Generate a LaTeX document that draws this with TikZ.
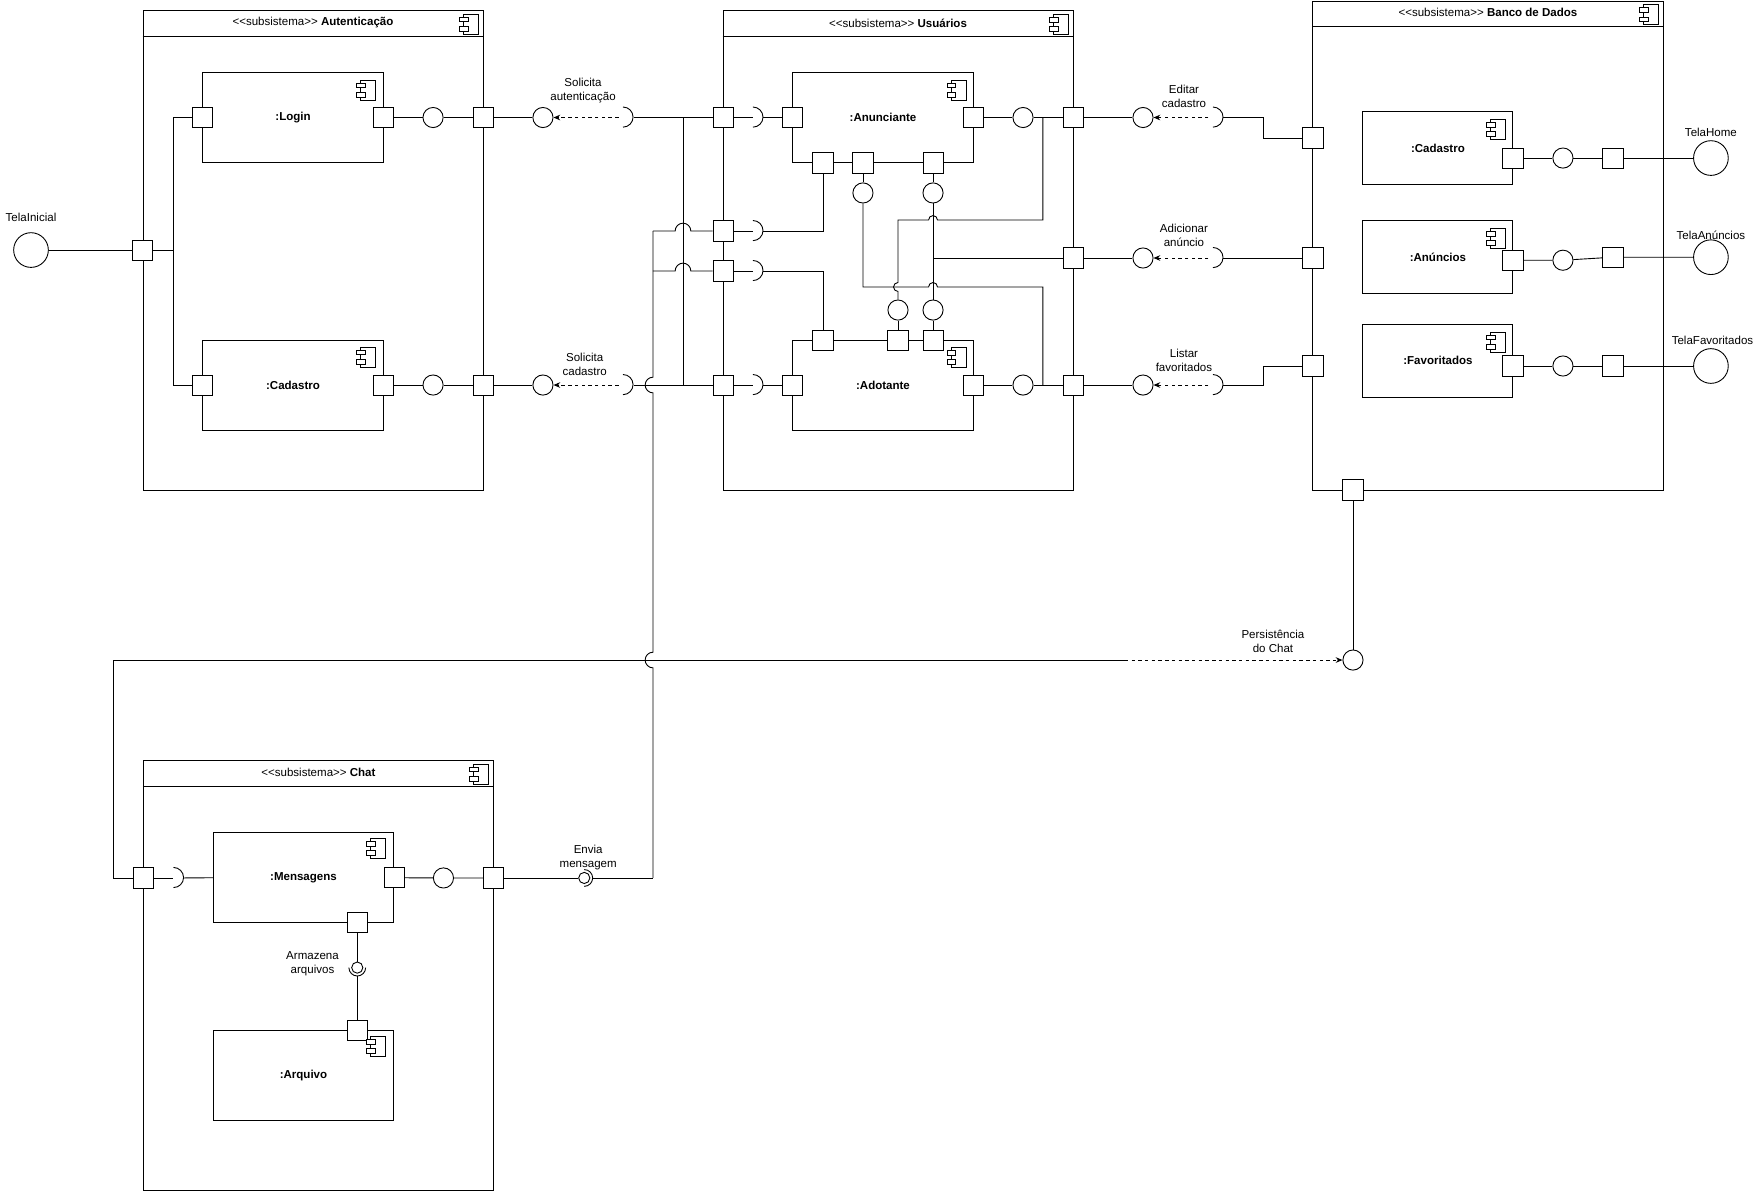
\documentclass[tikz,border=0pt]{standalone}
\usepackage{fontspec}
\setmainfont{Liberation Sans}
\usetikzlibrary{arrows.meta,calc}
\newcommand{\subsis}{<\kern0pt<subsistema>\kern0pt>}

\begin{document}
\begin{tikzpicture}[x=1pt,y=-1pt,line width=.8pt,
  every node/.style={font=\fontsize{10.3}{12.5}\selectfont,align=center},
  subbox/.style={draw,inner sep=0pt},
  comp/.style={draw,fill=white,inner sep=0pt,minimum width=161pt,minimum height=80.5pt,font=\fontsize{10.3}{12.5}\selectfont\bfseries},
  port/.style={draw,fill=white,inner sep=0pt,minimum size=18pt},
  lolli/.style={draw,circle,fill=white,inner sep=0pt,minimum size=18pt},
  tela/.style={draw,circle,fill=white,inner sep=0pt,minimum size=31pt},
  ball/.style={draw,circle,fill=white,inner sep=0pt,minimum size=10pt},
  sock/.style={circle,inner sep=0pt,minimum size=18pt},
  req/.style={dashed,-{Stealth[length=6pt,width=5pt]}},
  pics/compicon/.style={code={
    \draw[fill=white,line width=.7pt] (-6.7pt,-9pt) rectangle (6.7pt,9pt);
    \draw[fill=white,line width=.7pt] (-10.3pt,2pt) rectangle (-2.5pt,6.2pt);
    \draw[fill=white,line width=.7pt] (-10.3pt,-6.2pt) rectangle (-2.5pt,-2pt);}}]
\path[fill=white] (0,0) rectangle (1568,1065);
\useasboundingbox (0,0) rectangle (1568,1065);

% subsistema Autenticacao
\node[subbox,minimum width=303.7pt,minimum height=428.8pt] (auth) at (279.65,223.4) {};
\draw ([yshift=-24pt]auth.north west) -- ([yshift=-24pt]auth.north east);
\node (authT) at (279.65,20) {\subsis\ \textbf{Autenticação}};
\pic at (420.8,21.5) {compicon};
\node[comp] (login) at (261.8,105) {:Login};
\pic at (328.8,80.4) {compicon};
\node[comp] (acad) at (261.8,344) {:Cadastro};
\pic at (328.8,319) {compicon};
\node[port] (pLoginW) at (login.west) {};
\node[port] (pLoginE) at (login.east) {};
\node[port] (pCadW) at (acad.west) {};
\node[port] (pCadE) at (acad.east) {};
\node[port] (pAuthL) at (auth.west) {};
\node[port] (pAuth1) at (auth.east |- login) {};
\node[port] (pAuth2) at (auth.east |- acad) {};
\node[lolli] (iLogin) at (386.9,105) {};
\node[lolli] (iCad) at (386.9,344) {};
\node[tela] (tIni) at (27.7,223.4) {};
\node (lIni) at (27.7,194) {TelaInicial};

% interfaces Solicita
\node[lolli] (iAut) at (485.1,105) {};
\node[lolli] (iCadS) at (485.1,344) {};
\node[sock] (sAut) at (556.6,105) {};
\node[sock] (sCad) at (556.6,344) {};
\node (lAut) at (520.9,81.2) {Solicita\\autenticação};
\node (lCad) at (522.4,325.6) {Solicita\\cadastro};

% subsistema Usuarios
\node[subbox,minimum width=312.7pt,minimum height=428.8pt] (usr) at (802.35,223.4) {};
\draw ([yshift=-24pt]usr.north west) -- ([yshift=-24pt]usr.north east);
\node (usrT) at (802.35,20.5) {\subsis\ \textbf{Usuários}};
\pic at (948.2,22) {compicon};
\node[comp] (anun) at (788.9,105) {:Anunciante};
\pic at (856.5,80.4) {compicon};
\node[comp] (adot) at (788.9,344) {:Adotante};
\pic at (856.5,319.2) {compicon};
\node[port] (pU1) at (646,105) {};
\node[port] (pU2) at (646,206.4) {};
\node[port] (pU3) at (646,242.1) {};
\node[port] (pU4) at (646,344) {};
\node[sock] (sU1) at (672.7,105) {};
\node[sock] (sU2) at (672.7,206.4) {};
\node[sock] (sU3) at (672.7,242.1) {};
\node[sock] (sU4) at (672.7,344) {};
\node[port] (pAnW) at (anun.west) {};
\node[port] (pAnE) at (anun.east) {};
\node[port] (pAnB1) at (735.3,145.6) {};
\node[port] (pAnB2) at (771,145.6) {};
\node[port] (pAnB3) at (833.6,145.6) {};
\node[lolli] (iAnB2) at (771,172.4) {};
\node[lolli] (iAnB3) at (833.6,172.4) {};
\node[lolli] (iAnE) at (914,105) {};
\node[port] (pAdW) at (adot.west) {};
\node[port] (pAdE) at (adot.east) {};
\node[port] (pAdT1) at (735.3,303.8) {};
\node[port] (pAdT2) at (802.3,303.8) {};
\node[port] (pAdT3) at (833.6,303.8) {};
\node[lolli] (iAdT2) at (802.3,277) {};
\node[lolli] (iAdT3) at (833.6,277) {};
\node[lolli] (iAdE) at (914,344) {};
\node[port] (pUR1) at (958.7,105) {};
\node[port] (pUR2) at (958.7,230.5) {};
\node[port] (pUR3) at (958.7,344) {};

% interfaces para o banco
\node[lolli] (iEd) at (1021.2,105) {};
\node[lolli] (iAdd) at (1021.2,230.5) {};
\node[lolli] (iLi) at (1021.2,344) {};
\node[sock] (sEd) at (1083.7,105) {};
\node[sock] (sAdd) at (1083.7,230.5) {};
\node[sock] (sLi) at (1083.7,344) {};
\node (lEd) at (1057.8,85.8) {Editar\\cadastro};
\node (lAdd) at (1057.8,210) {Adicionar\\anúncio};
\node (lLi) at (1057.8,321.6) {Listar\\favoritados};

% subsistema Banco de Dados
\node[subbox,minimum width=312.8pt,minimum height=436.8pt] (bd) at (1329.4,219.4) {};
\draw ([yshift=-23pt]bd.north west) -- ([yshift=-23pt]bd.north east);
\node (bdT) at (1329.4,11.5) {\subsis\ \textbf{Banco de Dados}};
\pic at (1475.3,13.1) {compicon};
\node[comp,minimum width=134pt,minimum height=64.4pt] (bcad) at (1284.7,132.2) {:Cadastro};
\pic at (1338.6,115.4) {compicon};
\node[comp,minimum width=134pt,minimum height=64.4pt] (banu) at (1284.7,229.6) {:Anúncios};
\pic at (1338.6,212.8) {compicon};
\node[comp,minimum width=134pt,minimum height=65.2pt] (bfav) at (1284.7,322.1) {:Favoritados};
\pic at (1338.6,305.6) {compicon};
\node[port] (pB1) at (1173,123.3) {};
\node[port] (pB2) at (1173,230.5) {};
\node[port] (pB3) at (1173,327) {};
\node[port] (pB4) at (1208.8,437.8) {};
\node[port] (pBc) at (1351.7,141.2) {};
\node[port] (pBa) at (1351.7,232.5) {};
\node[port] (pBf) at (1351.7,327) {};
\node[lolli] (iBc) at (1396.4,141.2) {};
\node[lolli] (iBa) at (1396.4,232.5) {};
\node[lolli] (iBf) at (1396.4,327) {};
\node[port] (pBc2) at (1441.1,141.2) {};
\node[port] (pBa2) at (1441.1,229.8) {};
\node[port] (pBf2) at (1441.1,327) {};
\node[tela] (tHome) at (1528.6,141.2) {};
\node[tela] (tAnu) at (1528.6,229.8) {};
\node[tela] (tFav) at (1528.6,327) {};
\node (lHome) at (1528.6,118) {TelaHome};
\node (lAnu) at (1528.6,210) {TelaAnúncios};
\node (lFav) at (1530,304) {TelaFavoritados};
\node[lolli] (iPer) at (1208.8,589.7) {};
\node (lPer) at (1137.3,572.7) {Persistência\\do Chat};

% subsistema Chat
\node[subbox,minimum width=313pt,minimum height=383.6pt] (chat) at (284.5,871.4) {};
\draw ([yshift=-23.2pt]chat.north west) -- ([yshift=-23.2pt]chat.north east);
\node (chatT) at (284.5,690.5) {\subsis\ \textbf{Chat}};
\pic at (430,691.6) {compicon};
\node[comp] (msg) at (271.15,784.2) {:Mensagens};
\pic at (338,758) {compicon};
\node[comp] (arq) at (271.15,960.55) {:Arquivo};
\node[port] (pChL) at (128,784.4) {};
\node[port] (pChR) at (441,784.4) {};
\node[port] (pMsgE) at (msg.east) {};
\node[port] (pMsgB) at (319.2,824.4) {};
\node[port] (pArqT) at (319.2,920.5) {};
\pic at (338,935) {compicon};
\node[lolli] (iMsg) at (396.2,784.4) {};
\node[sock] (sCh) at (155,784.4) {};
\node[ball] (bEnv) at (522,784.4) {};
\node[ball] (bArm) at (319.2,864.5) {};
\node (lEnv) at (525.5,765.7) {Envia\\mensagem};
\node (lArm) at (279.2,861) {Armazena\\arquivos};

% encaixes (sockets)
\draw (sAut.north) arc[start angle=90,end angle=-90,radius=9pt];
\draw (sCad.north) arc[start angle=90,end angle=-90,radius=9pt];
\draw (sU1.north) arc[start angle=90,end angle=-90,radius=9pt];
\draw (sU2.north) arc[start angle=90,end angle=-90,radius=9pt];
\draw (sU3.north) arc[start angle=90,end angle=-90,radius=9pt];
\draw (sU4.north) arc[start angle=90,end angle=-90,radius=9pt];
\draw (sEd.north) arc[start angle=90,end angle=-90,radius=9pt];
\draw (sAdd.north) arc[start angle=90,end angle=-90,radius=9pt];
\draw (sLi.north) arc[start angle=90,end angle=-90,radius=9pt];
\draw (sCh.north) arc[start angle=90,end angle=-90,radius=9pt];
\draw ([yshift=7.5pt]bEnv.center) arc[start angle=90,end angle=-90,radius=7.5pt];
\draw ([xshift=-7.5pt]bArm.center) arc[start angle=180,end angle=360,radius=7.5pt];

% ligacoes Autenticacao
\coordinate (jAuth) at (154.6,223.4);
\draw (tIni) -- (pAuthL);
\draw (pAuthL) -- (jAuth);
\draw (pLoginW) -| (jAuth) |- (pCadW);
\draw (pLoginE) -- (iLogin) -- (pAuth1);
\draw (pCadE) -- (iCad) -- (pAuth2);
\draw (pAuth1) -- (iAut);
\draw (pAuth2) -- (iCadS);
\draw[req] ([xshift=-4pt]sAut.center) -- (iAut);
\draw[req] ([xshift=-4pt]sCad.center) -- (iCadS);

% ligacoes entre Autenticacao, Chat e Usuarios
\coordinate (jL1) at (610.2,105);
\coordinate (jL2) at (610.2,344);
\coordinate (cA) at (583.4,206.4);
\coordinate (cB) at (583.4,242.1);
\coordinate (cEnd) at (583.4,784.4);
\draw (sAut.east) -- (pU1);
\draw (sCad.east) -- (pU4);
\draw (jL1) -- (jL2);
\draw (cA) -- ($(cA -| jL1)+(-7,0)$) arc[start angle=180,end angle=0,radius=7pt] -- (pU2);
\draw (cB) -- ($(cB -| jL1)+(-7,0)$) arc[start angle=180,end angle=0,radius=7pt] -- (pU3);
\draw (cA) -- ($(cA |- sCad)+(0,-7)$) arc[start angle=90,end angle=270,radius=7pt]
  -- ($(cA |- iPer)+(0,-7)$) arc[start angle=90,end angle=270,radius=7pt] -- (cEnd);

% ligacoes Usuarios
\draw (pU1) -- (sU1.center);
\draw (sU1.east) -- (pAnW);
\draw (pU2) -- (sU2.center);
\draw (sU2.east) -| (pAnB1);
\draw (pU3) -- (sU3.center);
\draw (sU3.east) -| (pAdT1);
\draw (pU4) -- (sU4.center);
\draw (sU4.east) -- (pAdW);
\draw (pAnB2) -- (iAnB2);
\draw (pAnB3) -- (iAnB3);
\draw (pAdT2) -- (iAdT2);
\draw (pAdT3) -- (iAdT3);
\draw (pAnE) -- (iAnE) -- (pUR1);
\draw (pAdE) -- (iAdE) -- (pUR3);
\coordinate (jR1) at (931.8,105);
\coordinate (jR1b) at (931.8,196.6);
\coordinate (jW) at (771,256.4);
\coordinate (jR3) at (931.8,344);
\coordinate (jU2) at (833.6,230.5);
\draw (iAnB3) -- (iAdT3);
\draw (jU2) -- (pUR2);
\draw (jR1) -- (jR1b) -- ($(jR1b -| iAnB3)+(4,0)$) arc[start angle=0,end angle=180,radius=4pt]
  -- (jR1b -| iAdT2) -- ($(iAdT2 |- jW)+(0,-4)$) arc[start angle=90,end angle=270,radius=4pt] -- (iAdT2);
\draw (iAnB2) -- (jW) -- ($(jW -| iAdT3)+(-4,0)$) arc[start angle=180,end angle=0,radius=4pt]
  -- (jW -| jR3) -- (jR3);

% ligacoes Usuarios - Banco de Dados
\coordinate (kEd) at (1128.4,105);
\coordinate (kLi) at (1128.4,344);
\draw (pUR1) -- (iEd);
\draw (pUR2) -- (iAdd);
\draw (pUR3) -- (iLi);
\draw[req] ([xshift=-4pt]sEd.center) -- (iEd);
\draw[req] ([xshift=-4pt]sAdd.center) -- (iAdd);
\draw[req] ([xshift=-4pt]sLi.center) -- (iLi);
\draw (sEd.east) -- (kEd) |- (pB1);
\draw (sAdd.east) -- (pB2);
\draw (sLi.east) -- (kLi) |- (pB3);

% ligacoes Banco de Dados
\draw (pBc) -- (iBc) -- (pBc2) -- (tHome);
\draw (pBa) -- (iBa) -- (pBa2) -- (tAnu);
\draw (pBf) -- (iBf) -- (pBf2) -- (tFav);
\draw (pB4) -- (iPer);
\coordinate (kPer) at (1005,589.7);
\coordinate (kChat) at (101.3,589.7);
\draw[req] (kPer) -- (iPer);
\draw (pChL) -| (kChat) -- (kPer);

% ligacoes Chat
\draw (pChL) -- (sCh.center);
\draw (sCh.east) -- (msg.west);
\draw (pMsgE) -- (iMsg) -- (pChR);
\draw (pChR) -- (bEnv);
\draw ([xshift=7.5pt]bEnv.center) -- (cEnd);
\draw (pMsgB) -- (bArm);
\draw ([yshift=-7.5pt]bArm.center) -- (pArqT);
\end{tikzpicture}
\end{document}
